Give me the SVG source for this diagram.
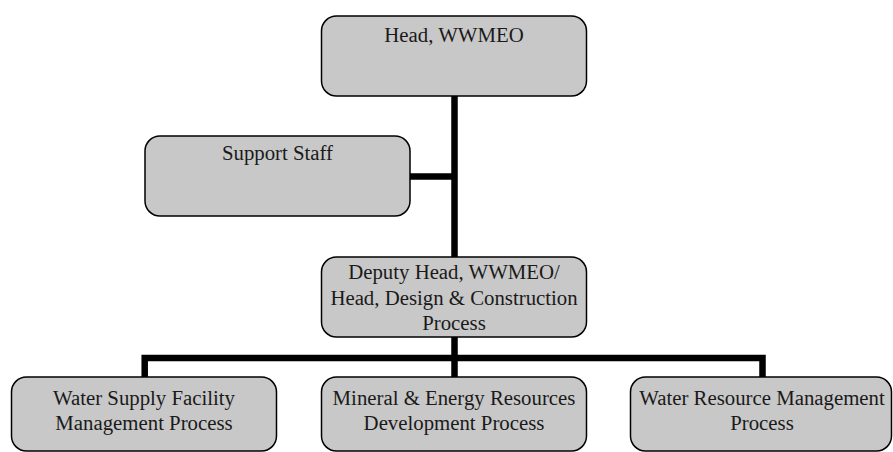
<svg xmlns="http://www.w3.org/2000/svg" width="893" height="452" viewBox="0 0 893 452">
  <style>
    .box { fill: #c8c8c8; stroke: #000; stroke-width: 1.5; }
    .lbl { font-family: "Liberation Serif", "Times New Roman", serif; font-size: 20.8px; fill: #1a1a1a; text-anchor: middle; }
    .link { fill: none; stroke: #000; stroke-width: 6.5; stroke-linejoin: miter; stroke-linecap: butt; }
  </style>

  <!-- connectors drawn beneath the boxes -->
  <g id="connectors">
    <path class="link" d="M454.5 96 V257"/>
    <path class="link" d="M410 176.5 H454.5"/>
    <path class="link" d="M454.5 337 V377"/>
    <path class="link" d="M144.7 377 V358 H762.5 V377"/>
  </g>

  <g id="head">
    <rect class="box" x="321.5" y="16" width="265" height="80" rx="15" ry="15"/>
    <text class="lbl" x="454" y="42">Head, WWMEO</text>
  </g>

  <g id="support-staff">
    <rect class="box" x="145" y="136" width="265" height="80" rx="15" ry="15"/>
    <text class="lbl" x="277.5" y="160">Support Staff</text>
  </g>

  <g id="deputy-head">
    <rect class="box" x="321.5" y="257" width="265" height="80" rx="15" ry="15"/>
    <text class="lbl" x="454" y="279">Deputy Head, WWMEO/</text>
    <text class="lbl" x="454" y="305">Head, Design &amp; Construction</text>
    <text class="lbl" x="454" y="330">Process</text>
  </g>

  <g id="water-supply">
    <rect class="box" x="11.5" y="377" width="265" height="74" rx="15" ry="15"/>
    <text class="lbl" x="144" y="405">Water Supply Facility</text>
    <text class="lbl" x="144" y="430">Management Process</text>
  </g>

  <g id="mineral-energy">
    <rect class="box" x="321.5" y="377" width="265" height="74" rx="15" ry="15"/>
    <text class="lbl" x="454" y="405">Mineral &amp; Energy Resources</text>
    <text class="lbl" x="454" y="430">Development Process</text>
  </g>

  <g id="water-resource">
    <rect class="box" x="630.5" y="377" width="261" height="74" rx="15" ry="15"/>
    <text class="lbl" x="762" y="405">Water Resource Management</text>
    <text class="lbl" x="762" y="430">Process</text>
  </g>
</svg>
